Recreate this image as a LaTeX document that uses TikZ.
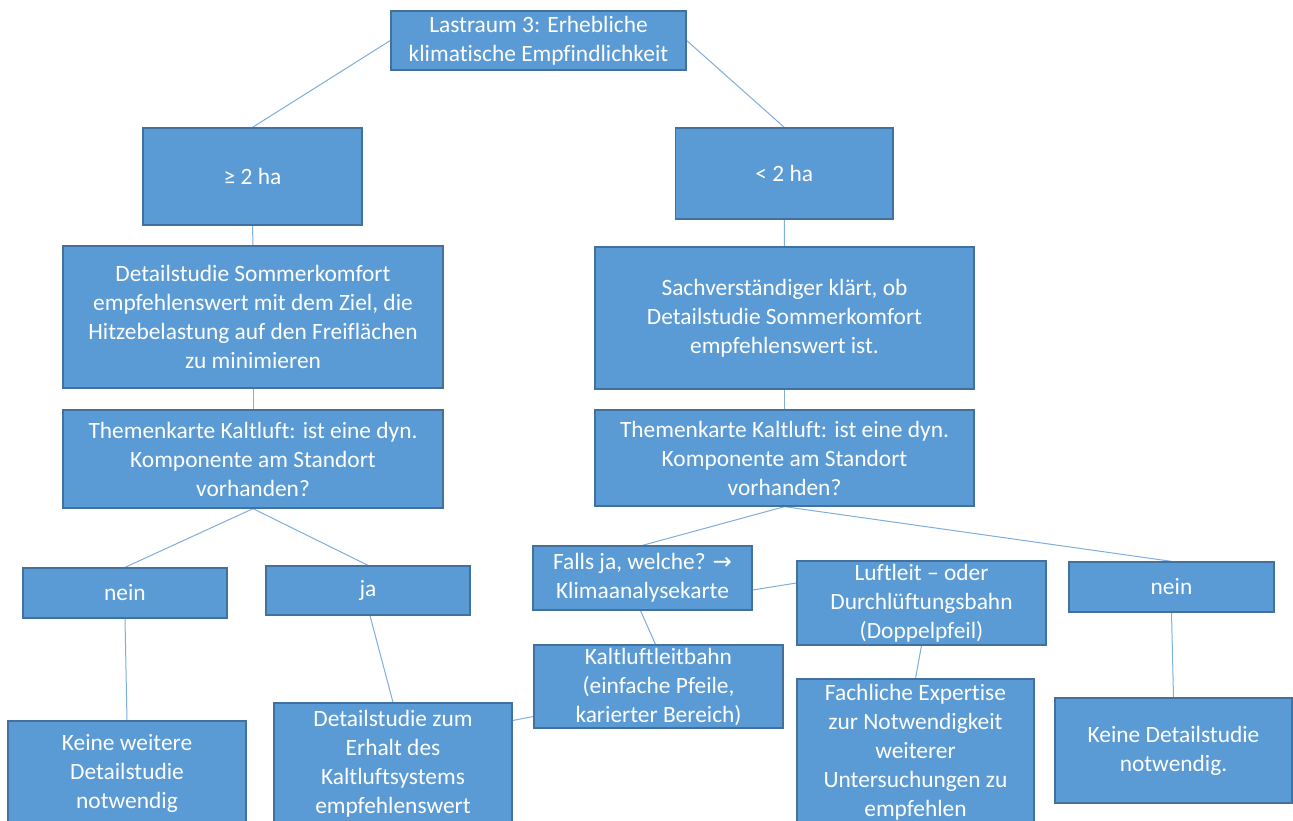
\documentclass[tikz,border=0pt]{standalone}
\usepackage{fontspec}
\setmainfont{Carlito}[Ligatures=NoCommon]
\newfontfamily\symfont{DejaVu Sans}
\usetikzlibrary{backgrounds}
\definecolor{boxfill}{HTML}{5B9BD5}
\definecolor{boxline}{HTML}{41719C}
\definecolor{conn}{HTML}{7EAEDD}
\tikzset{
  box/.style={draw=boxline, line width=1.3pt, fill=boxfill, text=white,
    align=center, inner sep=0pt,
    font=\fontsize{23.4}{29}\selectfont},
  conline/.style={draw=conn, line width=1pt}
}
% \bx{name}{x1}{y1}{x2}{y2}{text}
\newcommand{\bx}[6]{%
  \node[box, minimum width={#4-#2}, minimum height={#5-#3}]
    (#1) at ({(#2+#4)/2},{(#3+#5)/2+1.5}) {#6};}
\begin{document}
\begin{tikzpicture}[x=1pt,y=-1pt]
\useasboundingbox (0,0) rectangle (1293,821);
\clip (0,0) rectangle (1293,821);
\bx{top}{391}{9.5}{686}{68.5}{Lastraum 3: Erhebliche\\klimatische Empfindlichkeit}
\bx{ge}{143}{126.5}{362}{223.5}{≥ 2 ha}
\bx{lt}{675.5}{126.5}{893}{217.5}{< 2 ha}
\bx{detl}{63}{244.5}{443}{386.5}{Detailstudie Sommerkomfort\\empfehlenswert mit dem Ziel, die\\Hitzebelastung auf den Freiflächen\\zu minimieren}
\bx{sach}{595}{245.5}{974}{387.5}{Sachverständiger klärt, ob\\Detailstudie Sommerkomfort\\empfehlenswert ist.}
\bx{theml}{63}{408.5}{443}{506.5}{Themenkarte Kaltluft: ist eine dyn.\\Komponente am Standort\\vorhanden?}
\bx{themr}{595}{408.5}{974}{504.5}{Themenkarte Kaltluft: ist eine dyn.\\Komponente am Standort\\vorhanden?}
\bx{neinl}{23}{566.5}{227}{616.5}{nein}
\bx{ja}{266}{564.5}{470}{613.5}{ja}
\bx{falls}{533}{544.5}{752}{608.5}{Falls ja, welche? {\symfont\fontsize{23}{29}\selectfont →}\\Klimaanalysekarte}
\bx{luft}{797}{559.5}{1046}{643.5}{Luftleit – oder\\Durchlüftungsbahn\\(Doppelpfeil)}
\bx{neinr}{1069}{560.5}{1274}{610.5}{nein}
\bx{kalt}{534}{643.5}{783}{726.5}{Kaltluftleitbahn\\(einfache Pfeile,\\karierter Bereich)}
\bx{keinew}{8}{719.5}{246}{823.5}{Keine weitere\\Detailstudie\\notwendig}
\bx{erhalt}{274}{701.5}{512}{822.5}{Detailstudie zum\\Erhalt des\\Kaltluftsystems\\empfehlenswert}
\bx{fach}{797}{677.5}{1034}{823.5}{Fachliche Expertise\\zur Notwendigkeit\\weiterer\\Untersuchungen zu\\empfehlen}
\bx{keined}{1055}{696.5}{1292}{801.5}{Keine Detailstudie\\notwendig.}
\begin{scope}[on background layer]
\fill[white] (0,0) rectangle (1293,821);
\draw[conline] (top.west) -- (ge.north);
\draw[conline] (top.east) -- (lt.north);
\draw[conline] (ge.south) -- (detl.north);
\draw[conline] (lt.south) -- (sach.north);
\draw[conline] (detl.south) -- (theml.north);
\draw[conline] (sach.south) -- (themr.north);
\draw[conline] (theml.south) -- (neinl.north);
\draw[conline] (theml.south) -- (ja.north);
\draw[conline] (themr.south) -- (falls.north);
\draw[conline] (themr.south) -- (neinr.north);
\draw[conline] ([yshift=-12pt]falls.east) -- ([yshift=20pt]luft.west);
\draw[conline] ([xshift=-2pt]falls.south) -- ([xshift=-3pt]kalt.north);
\draw[conline] (luft.south) -- (fach.north);
\draw[conline] (neinl.south) -- (keinew.north);
\draw[conline] ([xshift=2pt]ja.south) -- (erhalt.north);
\draw[conline] ([yshift=-30pt]kalt.west) -- ([yshift=43pt]erhalt.east);
\draw[conline] (neinr.south) -- (keined.north);
\end{scope}
\end{tikzpicture}
\end{document}
